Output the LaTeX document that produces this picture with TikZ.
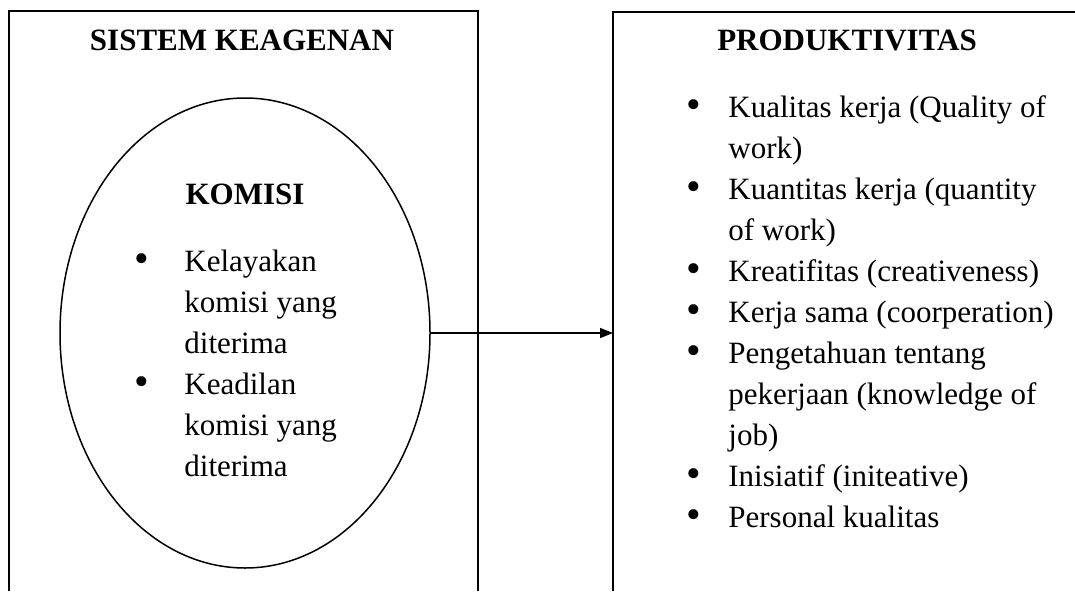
\documentclass[tikz,border=0pt]{standalone}
\usepackage{fontspec}
\usepackage{graphicx}
\setmainfont{Liberation Serif}
\usetikzlibrary{arrows.meta,shapes.geometric}
\newcommand{\bigDot}{\raisebox{-0.05em}{\scalebox{1.35}{\textbullet}}}
\tikzset{
  frameLine/.style={line width=1pt, draw=black},
  headLabel/.style={font=\fontsize{15.5}{20.5}\selectfont\bfseries, anchor=base, inner sep=0pt},
  listText/.style={font=\fontsize{15.5}{20.5}\selectfont, anchor=base west, inner sep=0pt},
  komisiOval/.style={ellipse, draw, line width=0.75pt, minimum width=185pt, minimum height=235pt, inner sep=0pt},
  linkArrow/.style={-{Triangle[length=6.5pt,width=5pt]}, line width=0.75pt}
}
\begin{document}
\begin{tikzpicture}[x=0.5pt,y=0.5pt]
  \useasboundingbox (0,0) rectangle (1075,591);
  % the two frames, open at the bottom
  \draw[frameLine] (9,0) -- (9,580) -- (478,580) -- (478,0);
  \draw[frameLine] (613,0) -- (613,579) -- (1075,579);
  \node[headLabel] (agenTitle) at (242,541) {SISTEM KEAGENAN};
  \node[headLabel] (prodTitle) at (847,541) {PRODUKTIVITAS};
  % commission oval
  \node[komisiOval] (komisi) at (245,258) {};
  \node[headLabel] (komisiTitle) at (245,387) {KOMISI};
  \node[listText] (komisiList) at (134,320) {\begin{tabular}[t]{@{}p{25pt}@{}l@{}}
    \bigDot & Kelayakan\\
            & komisi yang\\
            & diterima\\
    \bigDot & Keadilan\\
            & komisi yang\\
            & diterima
  \end{tabular}};
  % productivity list
  \node[listText] (prodList) at (686,474) {\begin{tabular}[t]{@{}p{21pt}@{}l@{}}
    \bigDot & Kualitas kerja (Quality of\\
            & work)\\
    \bigDot & Kuantitas kerja (quantity\\
            & of work)\\
    \bigDot & Kreatifitas (creativeness)\\
    \bigDot & Kerja sama (coorperation)\\
    \bigDot & Pengetahuan tentang\\
            & pekerjaan (knowledge of\\
            & job)\\
    \bigDot & Inisiatif (initeative)\\
    \bigDot & Personal kualitas
  \end{tabular}};
  \coordinate (prodEdge) at (613,258);
  \draw[linkArrow] (komisi.east) -- (prodEdge);
\end{tikzpicture}
\end{document}
